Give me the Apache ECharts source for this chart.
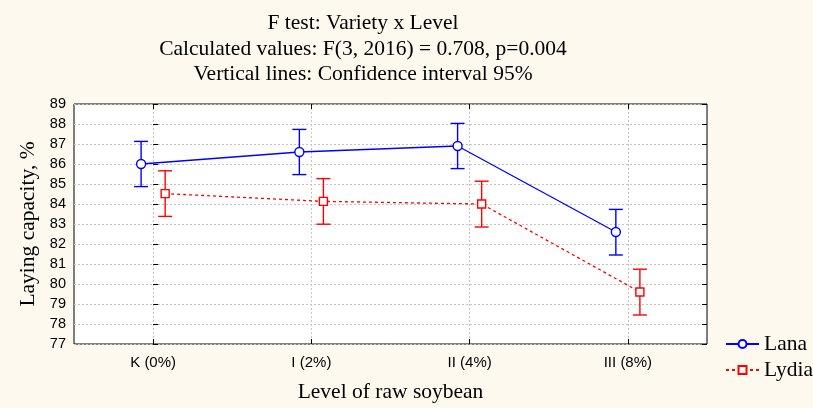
<!DOCTYPE html>
<html>
<head>
<meta charset="utf-8">
<script src="https://cdn.jsdelivr.net/npm/echarts@6/dist/echarts.min.js"></script>
<style>
html, body { margin: 0; padding: 0; background: #fdf9ef; }
#myEcharts { width: 813px; height: 408px; }
</style>
</head>
<body>
<div id="myEcharts"></div>
<script>
// data
var levels = ['K (0%)', 'I (2%)', 'II (4%)', 'III (8%)']
var lanaMean = [86.0, 86.6, 86.9, 82.6]
var lanaLow = [84.87, 85.47, 85.77, 81.45]
var lanaHigh = [87.13, 87.73, 88.03, 83.73]
var lydiaMean = [84.52, 84.13, 84.0, 79.6]
var lydiaLow = [83.38, 82.99, 82.85, 78.45]
var lydiaHigh = [85.66, 85.27, 85.14, 80.74]

var DODGE = 0.076 // side shift of the two varieties inside a category
var serif = '"Liberation Serif", "DejaVu Serif", serif'
var sans = '"Liberation Sans", Arial, sans-serif'

function pts(mean, shift) {
    var out = []
    mean.forEach(function(v, i) {
        out.push([i + shift, v])
    })
    return out
}
function bars(low, high, shift) {
    var out = []
    low.forEach(function(v, i) {
        out.push([i + shift, v, high[i]])
    })
    return out
}
function errorBar(color) {
    return function(params, api) {
        var lo = api.coord([api.value(0), api.value(1)])
        var hi = api.coord([api.value(0), api.value(2)])
        var w = 7
        var st = { stroke: color, lineWidth: 1.4 }
        return {
            type: 'group',
            children: [
                { type: 'line', shape: { x1: lo[0], y1: lo[1], x2: hi[0], y2: hi[1] }, style: st },
                { type: 'line', shape: { x1: lo[0] - w, y1: lo[1], x2: lo[0] + w, y2: lo[1] }, style: st },
                { type: 'line', shape: { x1: hi[0] - w, y1: hi[1], x2: hi[0] + w, y2: hi[1] }, style: st }
            ]
        }
    }
}

var myChart = echarts.init(document.getElementById('myEcharts'))

var gridLine = { show: true, lineStyle: { color: '#c4c4c4', type: [2, 2], width: 1 } }

myChart.setOption({
    backgroundColor: '#fdf9ef',
    animation: false,
    title: {
        text: 'F test: Variety x Level\nCalculated values: F(3, 2016) = 0.708, p=0.004\nVertical lines: Confidence interval 95%',
        left: 363,
        textAlign: 'center',
        top: 11,
        padding: 0,
        textStyle: { fontFamily: serif, fontSize: 21.5, fontWeight: 'normal', color: '#000', lineHeight: 25.5 }
    },
    legend: {
        orient: 'vertical',
        left: 720,
        top: 328,
        itemWidth: 33,
        itemHeight: 10,
        itemGap: 4,
        textStyle: { fontFamily: serif, fontSize: 21.5, color: '#000' },
        data: ['Lana', 'Lydia']
    },
    grid: {
        left: 74,
        right: 106,
        top: 104,
        bottom: 63,
        show: true,
        backgroundColor: '#fff',
        borderColor: '#000',
        borderWidth: 1
    },
    xAxis: [
        {
            type: 'category',
            data: levels,
            boundaryGap: true,
            axisLine: { show: false },
            axisTick: { show: true, inside: true, alignWithLabel: true, length: 5, lineStyle: { color: '#000' } },
            axisLabel: { fontFamily: sans, fontSize: 15, color: '#000', margin: 11 },
            splitLine: { show: true, alignWithLabel: true, lineStyle: gridLine.lineStyle },
            name: 'Level of raw soybean',
            nameLocation: 'middle',
            nameGap: 37,
            nameTextStyle: { fontFamily: serif, fontSize: 21.5, color: '#000' }
        },
        {
            type: 'value',
            min: -0.5,
            max: 3.5,
            show: false
        },
        {
            type: 'category',
            data: levels,
            position: 'top',
            axisLine: { show: false },
            axisTick: { show: true, inside: true, alignWithLabel: true, length: 5, lineStyle: { color: '#000' } },
            axisLabel: { show: false },
            splitLine: { show: false }
        }
    ],
    yAxis: [
        {
            type: 'value',
            min: 77,
            max: 89,
            interval: 1,
            axisLine: { show: false },
            axisTick: { show: true, inside: true, length: 5, lineStyle: { color: '#000' } },
            axisLabel: { fontFamily: sans, fontSize: 14.5, color: '#000', margin: 8 },
            splitLine: gridLine,
            name: 'Laying capacity, %',
            nameLocation: 'middle',
            nameGap: 31,
            nameTextStyle: { fontFamily: serif, fontSize: 21.5, color: '#000' }
        },
        {
            type: 'value',
            min: 77,
            max: 89,
            interval: 1,
            position: 'right',
            axisLine: { show: false },
            axisTick: { show: true, inside: true, length: 5, lineStyle: { color: '#000' } },
            axisLabel: { show: false },
            splitLine: { show: false }
        }
    ],
    series: [
        {
            name: 'Lana',
            type: 'line',
            xAxisIndex: 1,
            data: pts(lanaMean, -DODGE),
            symbol: 'circle',
            symbolSize: 9,
            z: 5,
            lineStyle: { color: '#0000ff', width: 1.3 },
            itemStyle: { color: '#fff', borderColor: '#0000ff', borderWidth: 1.4 }
        },
        {
            name: 'Lydia',
            type: 'line',
            xAxisIndex: 1,
            data: pts(lydiaMean, DODGE),
            symbol: 'rect',
            symbolSize: 8,
            z: 5,
            lineStyle: { color: '#ff0000', width: 1.3, type: [3, 3] },
            itemStyle: { color: '#fff', borderColor: '#ff0000', borderWidth: 1.4 }
        },
        {
            name: 'Lana CI',
            type: 'custom',
            xAxisIndex: 1,
            data: bars(lanaLow, lanaHigh, -DODGE),
            renderItem: errorBar('#0000ff'),
            z: 3
        },
        {
            name: 'Lydia CI',
            type: 'custom',
            xAxisIndex: 1,
            data: bars(lydiaLow, lydiaHigh, DODGE),
            renderItem: errorBar('#ff0000'),
            z: 3
        }
    ]
})
</script>
</body>
</html>
